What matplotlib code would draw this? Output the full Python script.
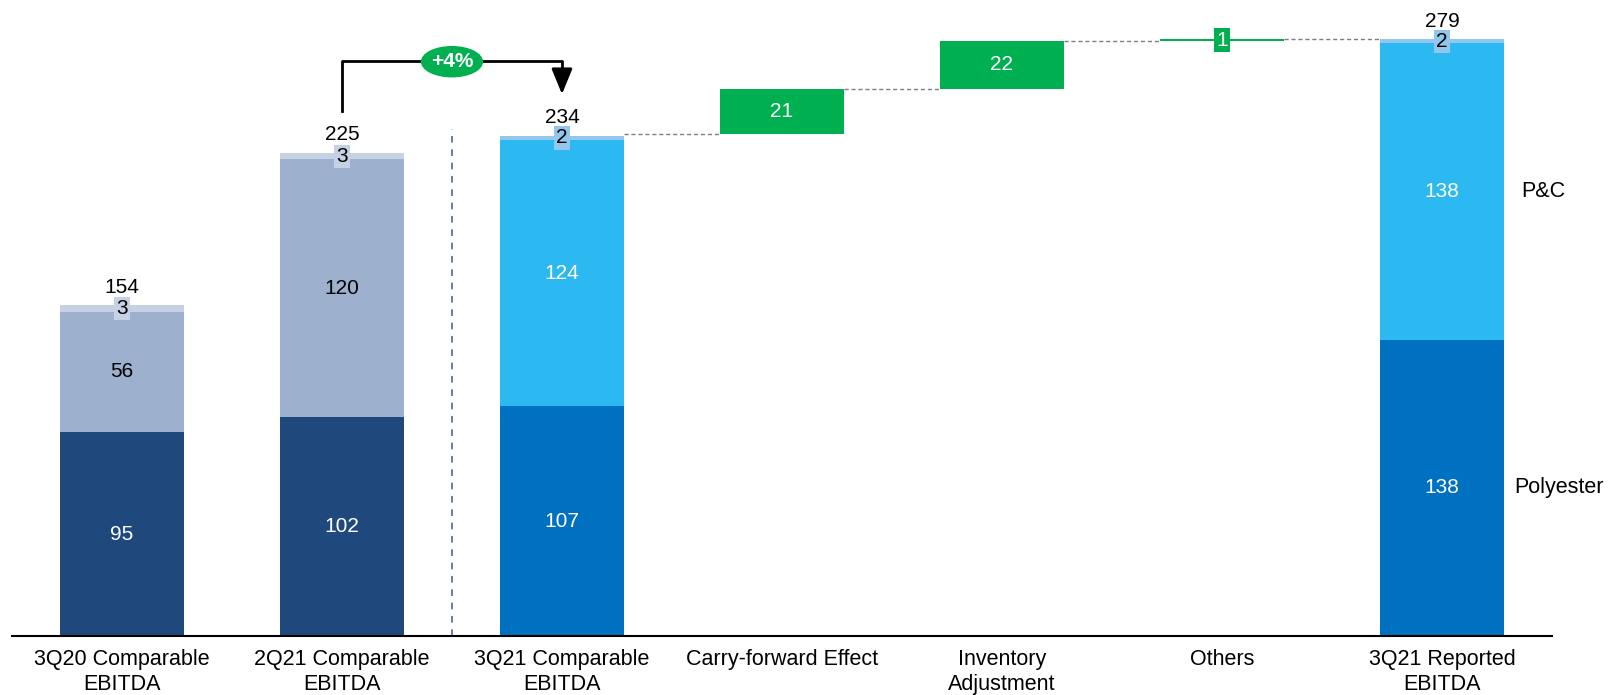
import numpy as np
import matplotlib.pyplot as plt
from matplotlib.patches import Ellipse

plt.rcParams['font.family'] = ['Liberation Sans', 'DejaVu Sans']

categories = ['3Q20 Comparable\nEBITDA', '2Q21 Comparable\nEBITDA', '3Q21 Comparable\nEBITDA',
              'Carry-forward Effect', 'Inventory\nAdjustment', 'Others', '3Q21 Reported\nEBITDA']

# stacked bars (index on x axis)
stack_pos = [0, 1, 2, 6]
polyester = [95, 102, 107, 138]
pc = [56, 120, 124, 138]
other = [3, 3, 2, 2]
totals = [154, 225, 234, 279]

# bridge from 3Q21 comparable to reported
bridge_pos = [3, 4, 5]
bridge = [21, 22, 1]
bridge_start = 234

growth = '+4%'

navy = '#1F497D'
navy_lt = '#9DB1CF'
navy_top = '#C6D2E4'
blue = '#0070C0'
blue_lt = '#2CB9F1'
blue_top = '#93C6EC'
green = '#00B050'
fs = 15      # value labels
fs_lab = 15.5  # category / segment names

fig = plt.figure(figsize=(16.16, 6.95), dpi=100)
ax = fig.add_axes([0.0074, 0.0849, 0.953, 0.8958])
w = 0.56

for i, p in enumerate(stack_pos):
    if p < 2:
        c1, c2, c3, t2 = navy, navy_lt, navy_top, 'black'
    else:
        c1, c2, c3, t2 = blue, blue_lt, blue_top, 'white'
    a, b, c = polyester[i], pc[i], other[i]
    ax.bar(p, a, w, color=c1, zorder=2)
    ax.bar(p, b, w, bottom=a, color=c2, zorder=2)
    ax.bar(p, c, w, bottom=a + b, color=c3, zorder=2)
    ax.text(p, a / 2, str(a), ha='center', va='center', color='white', fontsize=fs, zorder=4)
    ax.text(p, a + b / 2, str(b), ha='center', va='center', color=t2, fontsize=fs, zorder=4)
    ax.text(p, a + b + c / 2, str(c), ha='center', va='center', color='black', fontsize=fs, zorder=4,
            bbox=dict(boxstyle='square,pad=0.1', fc=c3, ec='none'))
    ax.annotate(str(totals[i]), (p, a + b + c), xytext=(0, 9), textcoords='offset points',
                ha='center', va='baseline', fontsize=fs, zorder=4)

# waterfall steps
level = bridge_start
prev_x = 2
for p, v in zip(bridge_pos, bridge):
    ax.plot([prev_x + w / 2, p - w / 2], [level, level], ls=(0, (3, 2)), color='#7F7F7F', lw=1, zorder=1)
    ax.bar(p, v, w, bottom=level, color=green, zorder=2)
    if v < 3:
        ax.text(p, level + v / 2, str(v), ha='center', va='center', color='white', fontsize=fs, zorder=4,
                bbox=dict(boxstyle='square,pad=0.12', fc=green, ec='none'))
    else:
        ax.text(p, level + v / 2, str(v), ha='center', va='center', color='white', fontsize=fs, zorder=4)
    level += v
    prev_x = p
ax.plot([prev_x + w / 2, 6 - w / 2], [level, level], ls=(0, (3, 2)), color='#7F7F7F', lw=1, zorder=1)

# separator between periods
ax.plot([1.5, 1.5], [0, 236], ls=(0, (4, 4)), color='#4F6A8F', lw=1.2, zorder=1)

# growth bracket
ax.plot([1, 1, 2, 2], [244.7, 267.8, 267.8, 262], color='black', lw=2, zorder=3)
ax.annotate('', xy=(2, 252.4), xytext=(2, 263),
            arrowprops=dict(arrowstyle='-|>,head_width=0.32,head_length=0.78', mutation_scale=20,
                            color='black', lw=2, shrinkA=0, shrinkB=0), zorder=3)
ax.add_patch(Ellipse((1.5, 267.5), 0.276, 14, color=green, zorder=4))
ax.text(1.5, 267.5, growth, ha='center', va='center', color='white', fontsize=fs, fontweight='bold', zorder=5)

# segment legend
ax.text(6.36, 207, 'P&C', ha='left', va='center', fontsize=fs_lab)
ax.text(6.33, 69, 'Polyester', ha='left', va='center', fontsize=fs_lab)

ax.set_xlim(-0.5, 6.5)
ax.set_ylim(0, 290)
ax.set_xticks(range(len(categories)))
ax.set_xticklabels(categories, fontsize=fs_lab, linespacing=1.25, va='top')
ax.tick_params(axis='x', length=0, pad=9.5)
ax.set_yticks([])
for s in ['top', 'right', 'left']:
    ax.spines[s].set_visible(False)
ax.spines['bottom'].set_linewidth(1.5)
ax.patch.set_alpha(0)

fig.savefig('out.png', dpi=100)
